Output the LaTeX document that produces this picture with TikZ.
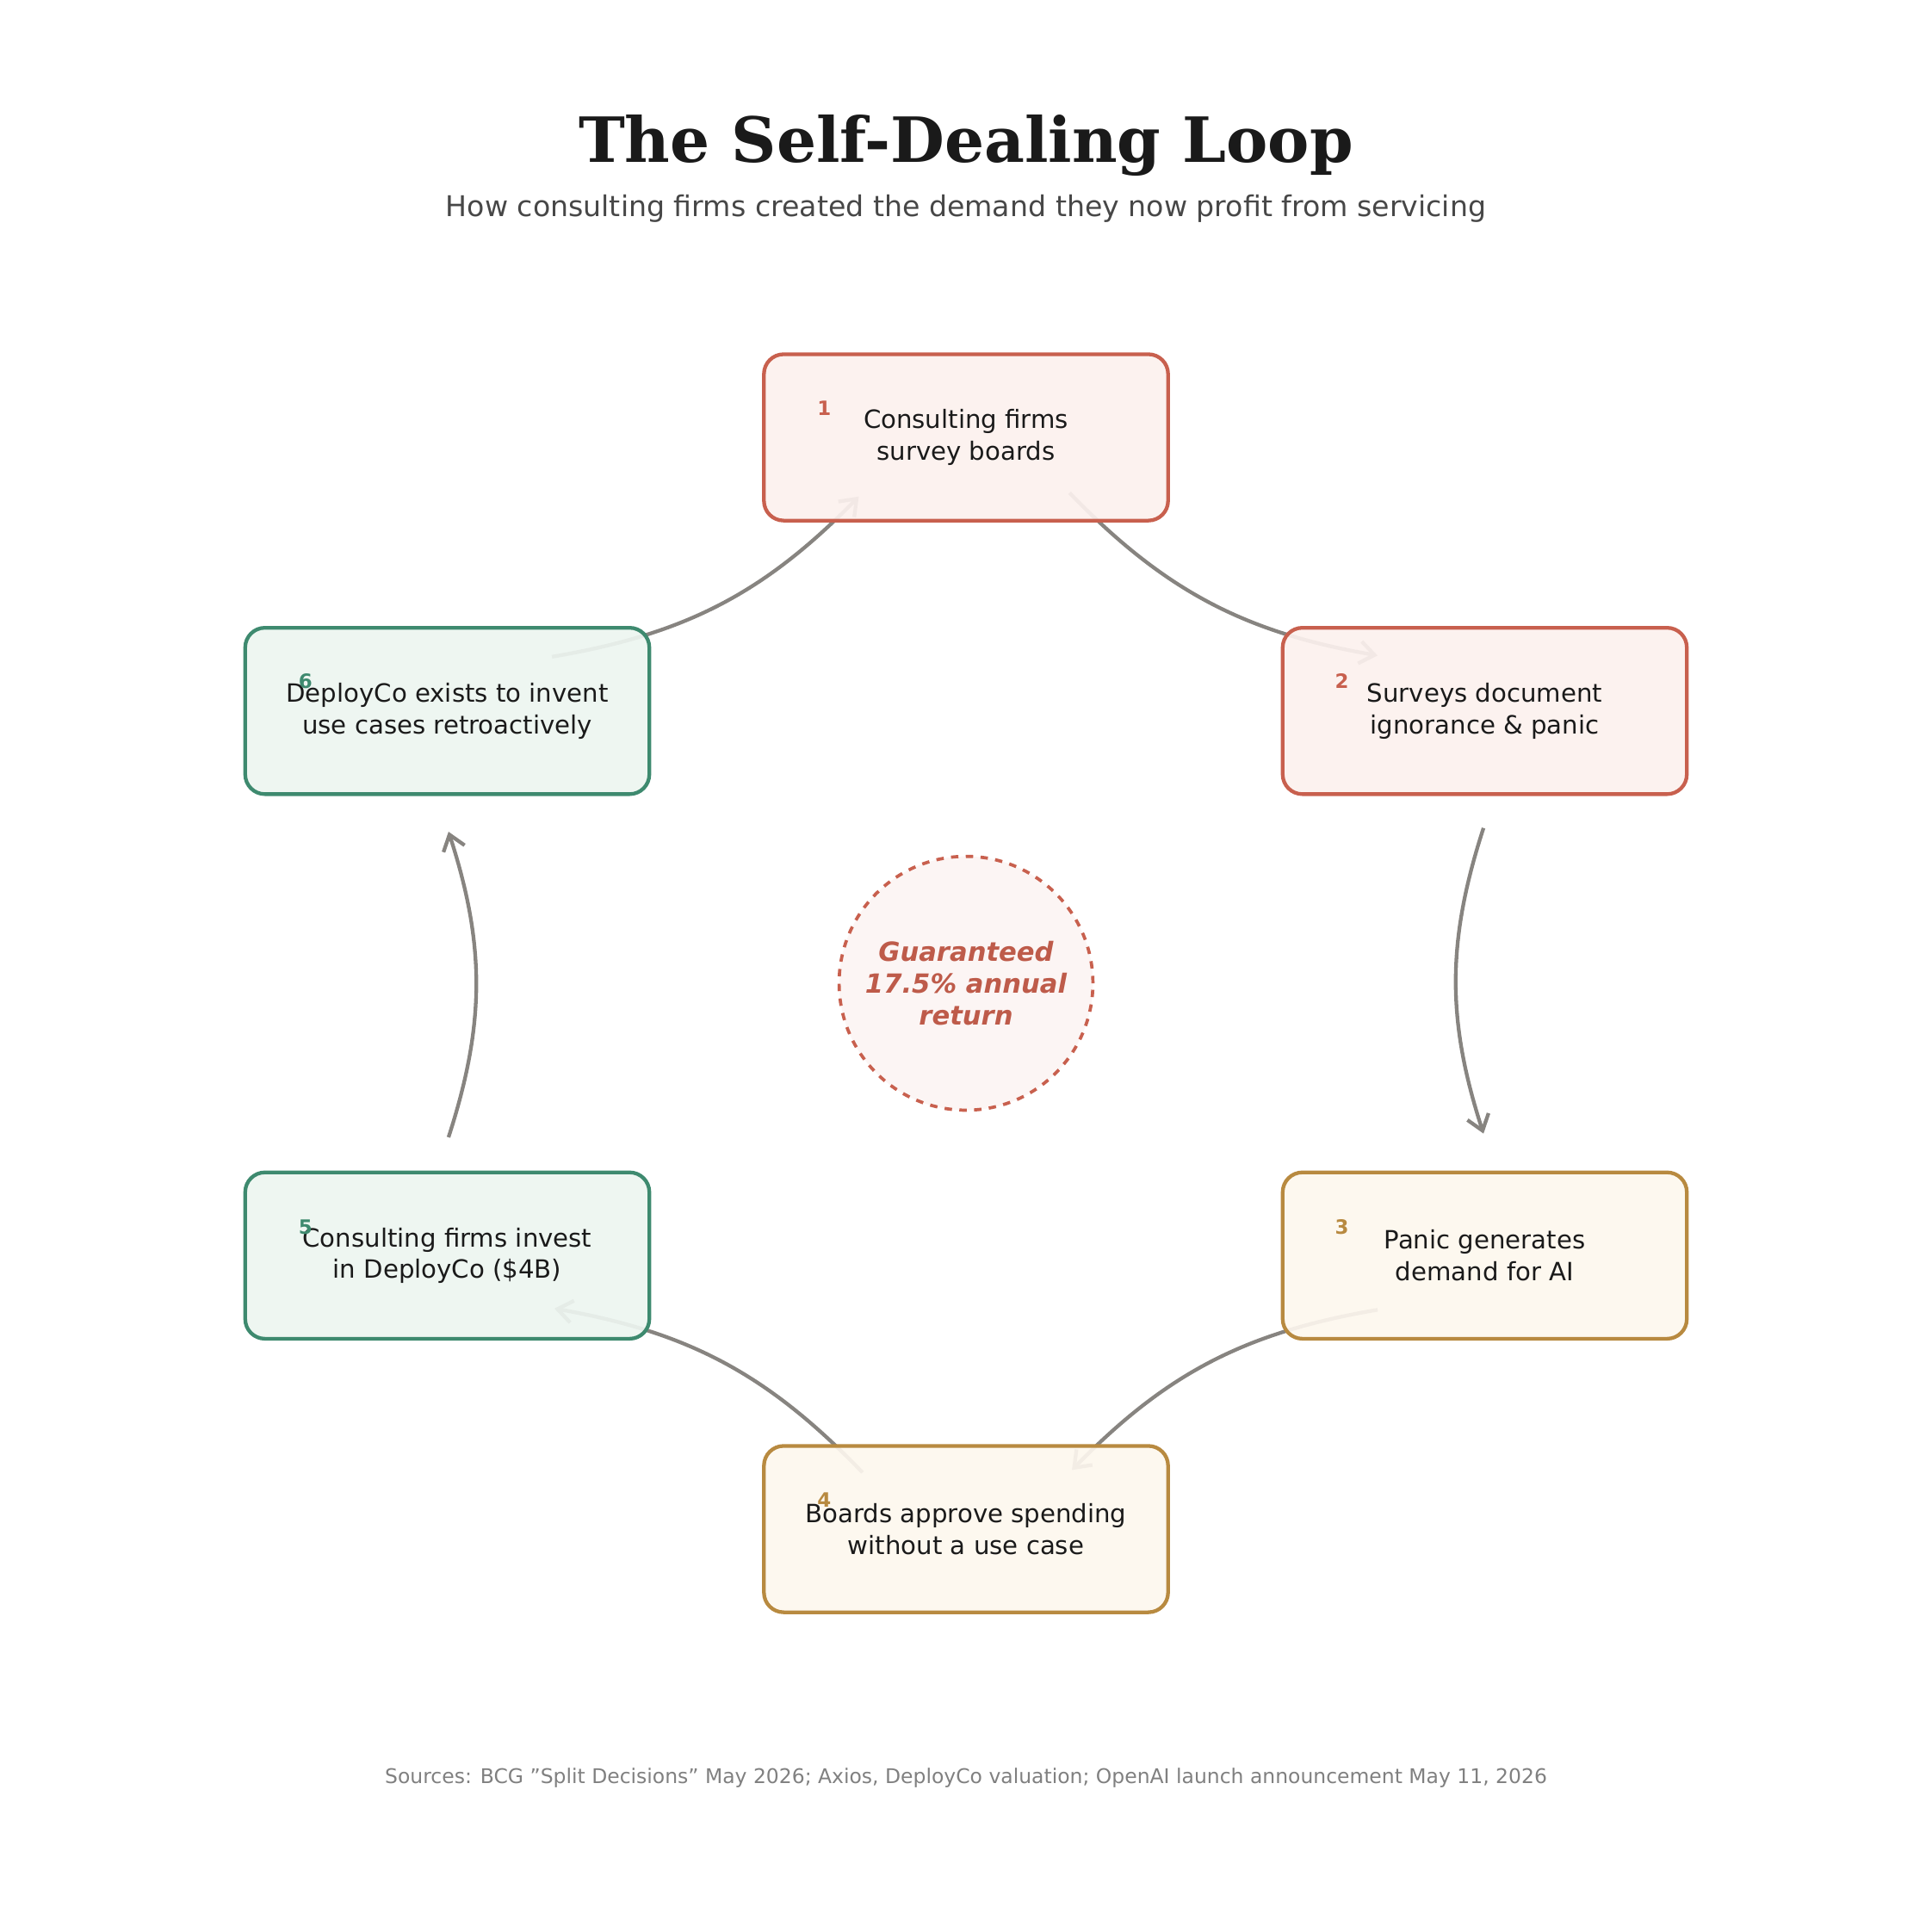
\documentclass[tikz,border=0pt]{standalone}
\usepackage{fontspec}
\setmainfont{DejaVu Sans}[Ligatures=ResetAll]
\newfontfamily\titlefont{DejaVu Serif}
\usetikzlibrary{arrows.meta}
\definecolor{red1}{HTML}{C8604E}\definecolor{redf}{HTML}{FCF1EE}
\definecolor{gold1}{HTML}{B88A40}\definecolor{goldf}{HTML}{FDF7EE}
\definecolor{grn1}{HTML}{3E8A6F}\definecolor{grnf}{HTML}{EDF5F0}
\definecolor{arr}{HTML}{878480}\definecolor{txt}{HTML}{1A1A1A}
\begin{document}
\begin{tikzpicture}[x=0.5pt,y=-0.5pt,
 box/.style={draw=#1!100,line width=1.5pt,rounded corners=8pt,minimum width=164pt,minimum height=67.5pt,align=center,font=\fontsize{10.2}{12.8}\selectfont,text=txt,fill opacity=0.92,text opacity=1},
 num/.style={font=\bfseries\fontsize{8}{9}\selectfont,text=#1},
 con/.style={draw=arr,line width=1.5pt,-{Straight Barb[length=6pt,width=9pt]},bend right=18}]
\useasboundingbox (0,0) rectangle (1568,1568);
\node[font=\titlefont\bfseries\fontsize{25.3}{30}\selectfont,text=txt] (title) at (784,118) {The Self-Dealing Loop};
\node[font=\fontsize{11.6}{14}\selectfont,text=black!72] (sub) at (784,169) {How consulting firms created the demand they now profit from servicing};
\coordinate (a1) at (868,400); \coordinate (b1) at (1118,532);
\coordinate (a2) at (1204,672); \coordinate (b2) at (1204,920);
\coordinate (a3) at (1118,1063); \coordinate (b3) at (870,1193);
\coordinate (a4) at (700,1195); \coordinate (b4) at (450,1062);
\coordinate (a5) at (364,923); \coordinate (b5) at (364,675);
\coordinate (a6) at (448,533); \coordinate (b6) at (697,403);
\foreach \i in {1,...,6}{\draw[con] (a\i) to (b\i);}
\node[box=red1,fill=redf] (n1) at (784,355) {Consulting firms\\survey boards};
\node[box=red1,fill=redf] (n2) at (1205,577) {Surveys document\\ignorance \& panic};
\node[box=gold1,fill=goldf] (n3) at (1205,1019) {Panic generates\\demand for AI};
\node[box=gold1,fill=goldf] (n4) at (784,1241) {Boards approve spending\\without a use case};
\node[box=grn1,fill=grnf] (n5) at (363,1019) {Consulting firms invest\\in DeployCo (\$4B)};
\node[box=grn1,fill=grnf] (n6) at (363,577) {DeployCo exists to invent\\use cases retroactively};
\node[num=red1] (k1) at (669,331) {1};
\node[num=red1] (k2) at (1089,553) {2};
\node[num=gold1] (k3) at (1089,996) {3};
\node[num=gold1] (k4) at (669,1217) {4};
\node[num=grn1] (k5) at (248,996) {5};
\node[num=grn1] (k6) at (248,553) {6};
\node[circle,draw=red1,dashed,line width=1.3pt,fill=red1!6,minimum size=103pt,align=center,text=red1!95!black,font=\bfseries\itshape\fontsize{10.7}{13}\selectfont] (c) at (784,798) {Guaranteed\\17.5\% annual\\return};
\node[font=\fontsize{8.2}{10}\selectfont,text=black!50] (src) at (784,1443) {Sources: BCG "Split Decisions" May 2026; Axios, DeployCo valuation; OpenAI launch announcement May 11, 2026};
\end{tikzpicture}
\end{document}
